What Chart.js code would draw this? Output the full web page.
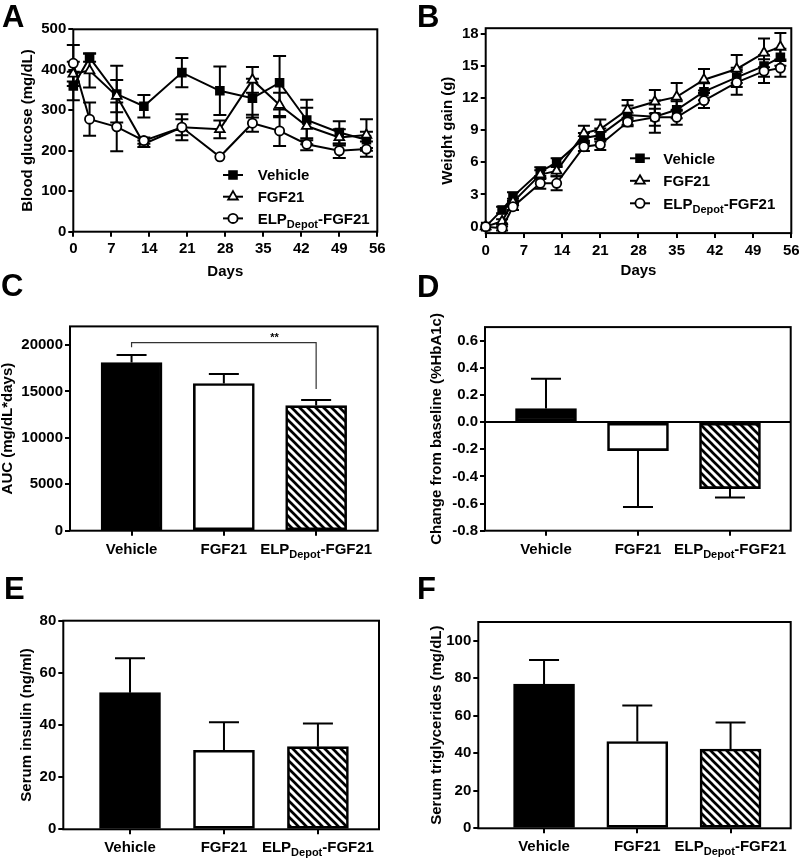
<!DOCTYPE html>
<html>
<head>
<meta charset="utf-8">
<script src="https://cdn.jsdelivr.net/npm/chart.js@4.4.1/dist/chart.umd.min.js"></script>
<style>
  html, body { margin: 0; padding: 0; width: 800px; height: 859px; overflow: hidden; background: #fff; }
  canvas { position: absolute; }
</style>
</head>
<body>
<canvas id="pA"></canvas>
<canvas id="pB"></canvas>
<canvas id="pC"></canvas>
<canvas id="pD"></canvas>
<canvas id="pE"></canvas>
<canvas id="pF"></canvas>
<script>
const FONT = '"Liberation Sans", Arial, Helvetica, sans-serif';

// ---- data ----
const seriesNames = ['Vehicle', 'FGF21', 'ELP_{Depot}-FGF21'];
const groupLabels = ['Vehicle', 'FGF21', 'ELP_{Depot}-FGF21'];

// A: blood glucose (mg/dL)
const glucoseDays = [0, 3, 8, 13, 20, 27, 33, 38, 43, 49, 54];
const glucoseVehicle = [360, 430, 340, 310, 393, 348, 330, 368, 276, 245, 227];
const glucoseVehicleSem = [35, 10, 70, 28, 36, 60, 48, 66, 50, 28, 20];
const glucoseFgf = [390, 398, 335, 217, 258, 253, 375, 313, 261, 233, 239];
const glucoseFgfSem = [30, 42, 40, 8, 32, 22, 32, 30, 45, 20, 39];
const glucoseElp = [416, 278, 259, 225, 258, 185, 268, 249, 216, 200, 204];
const glucoseElpSem = [45, 41, 60, 8, 20, 0, 21, 37, 15, 18, 19];
const glucoseTicks = [0, 100, 200, 300, 400, 500];

// B: weight gain (g)
const weightDays = [0, 3, 5, 10, 13, 18, 21, 26, 31, 35, 40, 46, 51, 54];
const weightVehicle = [0, 1.56, 2.8, 5.13, 5.97, 8.24, 8.55, 10.4, 10.25, 10.9, 12.58, 13.92, 14.98, 15.79];
const weightVehicleSem = [0, 0.3, 0.4, 0.4, 0.4, 0.5, 0.6, 0.9, 1.5, 0.8, 0.8, 0.9, 1.0, 0.8];
const weightFgf = [0, 0.5, 2.3, 4.85, 5.2, 8.7, 9.1, 10.9, 11.65, 12.1, 13.7, 14.7, 16.2, 16.75];
const weightFgfSem = [0, 0.2, 0.3, 0.4, 0.5, 0.7, 0.9, 0.9, 1.1, 1.3, 1.0, 1.3, 1.35, 1.3];
const weightElp = [0, -0.15, 1.86, 4.04, 4.04, 7.46, 7.65, 9.75, 10.2, 10.2, 11.75, 13.45, 14.5, 14.78];
const weightElpSem = [0, 0.2, 0.3, 0.5, 0.65, 0.4, 0.5, 0.4, 0.8, 0.7, 0.7, 1.15, 1.1, 0.8];
const weightTicks = [0, 3, 6, 9, 12, 15, 18];
const dayTicks = [0, 7, 14, 21, 28, 35, 42, 49, 56];

// C: AUC
const aucMean = [18100, 15840, 13470];
const aucSem = [820, 1040, 610];
const aucTicks = [0, 5000, 10000, 15000, 20000];

// D: HbA1c change
const hba1cMean = [0.10, -0.21, -0.49];
const hba1cSem = [0.22, 0.415, 0.065];
const hba1cTicks = [-0.8, -0.6, -0.4, -0.2, 0, 0.2, 0.4, 0.6];

// E: serum insulin
const insulinMean = [52.4, 30.3, 31.7];
const insulinSem = [13.2, 10.8, 8.9];
const insulinTicks = [0, 20, 40, 60, 80];

// F: serum triglycerides
const tgMean = [76.9, 46.3, 42.3];
const tgSem = [12.8, 19.2, 14.1];
const tgTicks = [0, 20, 40, 60, 80, 100];

// ---- helpers ----
const TICKFONT = { family: FONT, size: 15, weight: 'bold', lineHeight: 1.2 };
const TITLEFONT = { family: FONT, size: 15, weight: 'bold', lineHeight: 1 };

function drawRich(ctx, text, x, y, size, align) {
  const parts = [];
  const re = /_\{([^}]*)\}/g;
  let last = 0, m;
  while ((m = re.exec(text))) {
    if (m.index > last) parts.push({ t: text.slice(last, m.index), sub: false });
    parts.push({ t: m[1], sub: true });
    last = re.lastIndex;
  }
  if (last < text.length) parts.push({ t: text.slice(last), sub: false });
  const subSize = Math.round(size * 0.73);
  let w = 0;
  parts.forEach(p => {
    ctx.font = 'bold ' + (p.sub ? subSize : size) + 'px ' + FONT;
    p.w = ctx.measureText(p.t).width;
    w += p.w;
  });
  let cx = align === 'center' ? x - w / 2 : x;
  ctx.textAlign = 'left';
  ctx.textBaseline = 'alphabetic';
  parts.forEach(p => {
    ctx.font = 'bold ' + (p.sub ? subSize : size) + 'px ' + FONT;
    ctx.fillText(p.t, cx, y + (p.sub ? size * 0.27 : 0));
    cx += p.w;
  });
}

function marker(ctx, style, x, y, r, fill) {
  ctx.beginPath();
  if (style === 'circle') {
    ctx.arc(x, y, r, 0, Math.PI * 2);
  } else if (style === 'rect') {
    const s = r * Math.SQRT1_2;
    ctx.rect(x - s, y - s, 2 * s, 2 * s);
  } else {
    for (let k = 0; k < 3; k++) {
      const ang = k * 2 * Math.PI / 3;
      const px = x + Math.sin(ang) * r, py = y - Math.cos(ang) * r;
      if (k) ctx.lineTo(px, py); else ctx.moveTo(px, py);
    }
    ctx.closePath();
  }
  ctx.fillStyle = fill;
  ctx.fill();
  ctx.lineWidth = 1.8;
  ctx.strokeStyle = '#000';
  ctx.stroke();
}

function makeHatch() {
  const s = 8;
  const tile = document.createElement('canvas');
  tile.width = tile.height = s;
  const g = tile.getContext('2d');
  g.fillStyle = '#fff';
  g.fillRect(0, 0, s, s);
  g.strokeStyle = '#000';
  g.lineWidth = 2.7;
  g.beginPath();
  for (let k = -1; k <= 1; k++) {
    g.moveTo(-2, -2 + k * s);
    g.lineTo(s + 2, s + 2 + k * s);
  }
  g.stroke();
  return g.createPattern(tile, 'repeat');
}
const HATCH = makeHatch();

// per-panel decoration settings (kept outside Chart.js option resolver)
const DECOR = {};

const decorPlugin = {
  id: 'decor',
  beforeDatasetsDraw(chart) {
    const ctx = chart.ctx, a = chart.chartArea;
    ctx.save();
    ctx.strokeStyle = '#000';
    ctx.lineWidth = 2;
    ctx.strokeRect(a.left, a.top, a.right - a.left, a.bottom - a.top);
    ctx.restore();
    const d = DECOR[chart.canvas.id];
    if (d && d.errorsBehind) drawErrors(chart, d);
  },
  afterDatasetsDraw(chart) {
    const d = DECOR[chart.canvas.id];
    if (d && !d.errorsBehind) drawErrors(chart, d);
  },
  afterDraw(chart) {
    const d = DECOR[chart.canvas.id];
    const ctx = chart.ctx, a = chart.chartArea;
    const xs = chart.scales.x, ys = chart.scales.y;
    ctx.save();
    ctx.fillStyle = '#000';
    ctx.strokeStyle = '#000';
    if (d.zeroLine) {
      const y0 = ys.getPixelForValue(0);
      ctx.lineWidth = 2;
      ctx.beginPath();
      ctx.moveTo(a.left, y0);
      ctx.lineTo(a.right, y0);
      ctx.stroke();
    }
    ctx.font = 'bold 31px ' + FONT;
    ctx.textAlign = 'left';
    ctx.textBaseline = 'alphabetic';
    ctx.fillText(d.letter, d.letterX, d.letterY);
    if (d.xLabels) {
      d.xLabels.forEach((t, i) => drawRich(ctx, t, xs.getPixelForValue(i + 1), a.bottom + 22.8, 15, 'center'));
    }
    if (d.legend) {
      const L = d.legend;
      chart.data.datasets.forEach((ds, i) => {
        const y = L.y + i * L.dy;
        ctx.lineWidth = 2;
        ctx.strokeStyle = '#000';
        ctx.beginPath();
        ctx.moveTo(L.x, y);
        ctx.lineTo(L.x + L.len, y);
        ctx.stroke();
        marker(ctx, ds.pointStyle, L.x + L.len / 2, y, ds.pointRadius, ds.pointBackgroundColor);
        ctx.fillStyle = '#000';
        drawRich(ctx, ds.label, L.textX, y + 5.4, 15, 'left');
      });
    }
    if (d.bracket) {
      const b = d.bracket;
      const x1 = xs.getPixelForValue(b.from), x2 = xs.getPixelForValue(b.to);
      const yb = ys.getPixelForValue(b.y);
      ctx.lineWidth = 1.2;
      ctx.strokeStyle = '#333';
      ctx.beginPath();
      ctx.moveTo(x1, ys.getPixelForValue(b.leftEnd));
      ctx.lineTo(x1, yb);
      ctx.lineTo(x2, yb);
      ctx.lineTo(x2, ys.getPixelForValue(b.rightEnd));
      ctx.stroke();
      ctx.fillStyle = '#000';
      ctx.font = 'bold 11px ' + FONT;
      ctx.textAlign = 'center';
      ctx.fillText(b.text, xs.getPixelForValue(b.textX), yb - 1.5);
    }
    ctx.restore();
  }
};

function drawErrors(chart, d) {
  const ctx = chart.ctx, ys = chart.scales.y;
  const cap = d.cap;
  ctx.save();
  ctx.strokeStyle = '#000';
  ctx.lineWidth = 2;
  chart.data.datasets.forEach((ds, di) => {
    if (!ds.errors) return;
    const meta = chart.getDatasetMeta(di);
    meta.data.forEach((el, i) => {
      const v = ds.data[i].y, e = ds.errors[i];
      if (!e) return;
      const px = el.x;
      ctx.beginPath();
      if (d.oneSided) {
        const dir = v >= 0 ? 1 : -1;
        const yEnd = ys.getPixelForValue(v + dir * e);
        ctx.moveTo(px, ys.getPixelForValue(v));
        ctx.lineTo(px, yEnd);
        ctx.moveTo(px - cap, yEnd);
        ctx.lineTo(px + cap, yEnd);
      } else {
        const y1 = ys.getPixelForValue(v - e), y2 = ys.getPixelForValue(v + e);
        ctx.moveTo(px, y1);
        ctx.lineTo(px, y2);
        ctx.moveTo(px - cap, y1);
        ctx.lineTo(px + cap, y1);
        ctx.moveTo(px - cap, y2);
        ctx.lineTo(px + cap, y2);
      }
      ctx.stroke();
    });
  });
  ctx.restore();
}

Chart.register(decorPlugin);
Chart.defaults.font.family = FONT;
Chart.defaults.color = '#000';

// box: canvas placement on the page; area: plot frame on the page
function frame(id, box, area, titleX, xAxisH) {
  const c = document.getElementById(id);
  c.width = box.w;
  c.height = box.h;
  c.style.left = box.x + 'px';
  c.style.top = box.y + 'px';
  const padLeft = titleX - box.x - 7.5;
  return {
    canvas: c,
    padding: {
      left: padLeft,
      top: area.t - box.y,
      right: box.w - (area.r - box.x),
      bottom: box.h - (area.b - box.y) - xAxisH
    },
    yWidth: area.l - box.x - padLeft,
    xHeight: xAxisH
  };
}

const tickGrid = { display: true, drawOnChartArea: false, drawTicks: true, tickLength: 5, lineWidth: 2, color: '#000', offset: false };

function yAxis(f, ticks, min, max, title, fmt) {
  return {
    type: 'linear', min: min, max: max,
    afterBuildTicks: s => { s.ticks = ticks.map(v => ({ value: v })); },
    afterFit: s => { s.width = f.yWidth; },
    ticks: { padding: 2, font: TICKFONT, color: '#000', callback: fmt || (v => String(v)) },
    grid: tickGrid,
    border: { display: false },
    title: { display: true, text: title, font: TITLEFONT, color: '#000', padding: 0 }
  };
}

function xDays(f) {
  return {
    type: 'linear', min: 0, max: 56,
    afterBuildTicks: s => { s.ticks = dayTicks.map(v => ({ value: v })); },
    afterFit: s => { s.height = f.xHeight; },
    ticks: { padding: 3.5, font: TICKFONT, color: '#000', autoSkip: false, maxRotation: 0, callback: v => String(v) },
    grid: tickGrid,
    border: { display: false },
    title: { display: true, text: 'Days', font: TITLEFONT, color: '#000', padding: 0 }
  };
}

function xGroups(f, min, max) {
  return {
    type: 'linear', min: min, max: max, offset: false,
    afterBuildTicks: s => { s.ticks = groupLabels.map((_, i) => ({ value: i + 1 })); },
    afterFit: s => { s.height = f.xHeight; },
    ticks: { display: false },
    grid: tickGrid,
    border: { display: false }
  };
}

function pts(xs, ys) { return xs.map((x, i) => ({ x: x, y: ys[i] })); }

function lineSets(days, means, sems) {
  const styles = [
    { pointStyle: 'rect', pointRadius: 5.5, pointBackgroundColor: '#000', order: 3 },
    { pointStyle: 'triangle', pointRadius: 5.6, pointBackgroundColor: '#fff', order: 2 },
    { pointStyle: 'circle', pointRadius: 4.6, pointBackgroundColor: '#fff', order: 1 }
  ];
  return means.map((m, i) => Object.assign({
    label: seriesNames[i],
    data: pts(days, m),
    errors: sems[i],
    borderColor: '#000',
    borderWidth: 2,
    pointBorderColor: '#000',
    pointBorderWidth: 1.8,
    fill: false,
    tension: 0,
    clip: false
  }, styles[i]));
}

function barSet(means, sems) {
  return [{
    label: 'groups',
    data: means.map((v, i) => ({ x: i + 1, y: v })),
    errors: sems,
    backgroundColor: ['#000', '#fff', HATCH],
    borderColor: '#000',
    borderWidth: 2.6,
    borderSkipped: false,
    barThickness: 61
  }];
}

const common = {
  responsive: false,
  animation: false,
  devicePixelRatio: 1,
  events: [],
  plugins: { legend: { display: false }, tooltip: { enabled: false } }
};

function build(f, type, datasets, scales) {
  return new Chart(f.canvas, {
    type: type,
    data: { datasets: datasets },
    options: Object.assign({}, common, { layout: { padding: f.padding }, scales: scales })
  });
}

// ---- panel A ----
const fA = frame('pA', { x: 0, y: 0, w: 400, h: 285 }, { l: 73.3, t: 29.3, r: 377.3, b: 231.7 }, 28.3, 47.5);
DECOR.pA = { letter: 'A', letterX: 2, letterY: 27, errorsBehind: true, cap: 6.5,
  legend: { x: 223, y: 175, dy: 21.7, len: 20, textX: 257.7 } };
build(fA, 'line',
  lineSets(glucoseDays, [glucoseVehicle, glucoseFgf, glucoseElp], [glucoseVehicleSem, glucoseFgfSem, glucoseElpSem]),
  { x: xDays(fA), y: yAxis(fA, glucoseTicks, 0, 500, 'Blood glucose (mg/dL)') });

// ---- panel B ----
const fB = frame('pB', { x: 400, y: 0, w: 420, h: 285 }, { l: 485.7, t: 28.2, r: 791.3, b: 233.1 }, 448.3, 45.1);
DECOR.pB = { letter: 'B', letterX: 17, letterY: 27, errorsBehind: true, cap: 6,
  legend: { x: 230, y: 158.3, dy: 22.5, len: 20, textX: 263.3 } };
build(fB, 'line',
  lineSets(weightDays, [weightVehicle, weightFgf, weightElp], [weightVehicleSem, weightFgfSem, weightElpSem]),
  { x: xDays(fB), y: yAxis(fB, weightTicks, -0.6, 18.5, 'Weight gain (g)') });

// ---- panel C ----
const fC = frame('pC', { x: 0, y: 268, w: 400, h: 300 }, { l: 70, t: 326.4, r: 377.7, b: 530.7 }, 8.3, 25);
DECOR.pC = { letter: 'C', letterX: 1, letterY: 28, errorsBehind: false, oneSided: true, cap: 15,
  xLabels: groupLabels,
  bracket: { from: 1, to: 3, y: 20250, leftEnd: 19750, rightEnd: 15250, text: '**', textX: 2.55 } };
build(fC, 'bar', barSet(aucMean, aucSem),
  { x: xGroups(fC, 0.333, 3.667), y: yAxis(fC, aucTicks, 0, 22000, 'AUC (mg/dL*days)') });

// ---- panel D ----
const fD = frame('pD', { x: 400, y: 268, w: 420, h: 300 }, { l: 485, t: 327.1, r: 790.7, b: 530.7 }, 436.7, 25);
DECOR.pD = { letter: 'D', letterX: 17, letterY: 29, errorsBehind: false, oneSided: true, cap: 15,
  xLabels: groupLabels, zeroLine: true };
build(fD, 'bar', barSet(hba1cMean, hba1cSem),
  { x: xGroups(fD, 0.337, 3.66), y: yAxis(fD, hba1cTicks, -0.8, 0.7, 'Change from baseline (%HbA1c)', v => v.toFixed(1)) });

// ---- panel E ----
const fE = frame('pE', { x: 0, y: 568, w: 400, h: 291 }, { l: 63.3, t: 620.7, r: 379, b: 829.3 }, 27.3, 25);
DECOR.pE = { letter: 'E', letterX: 4, letterY: 30.5, errorsBehind: false, oneSided: true, cap: 15,
  xLabels: groupLabels };
build(fE, 'bar', barSet(insulinMean, insulinSem),
  { x: xGroups(fE, 0.29, 3.65), y: yAxis(fE, insulinTicks, 0, 80, 'Serum insulin (ng/ml)') });

// ---- panel F ----
const fF = frame('pF', { x: 400, y: 568, w: 420, h: 291 }, { l: 478.3, t: 622, r: 790.7, b: 828.3 }, 436.7, 25);
DECOR.pF = { letter: 'F', letterX: 17, letterY: 30.5, errorsBehind: false, oneSided: true, cap: 15,
  xLabels: groupLabels };
build(fF, 'bar', barSet(tgMean, tgSem),
  { x: xGroups(fF, 0.295, 3.645), y: yAxis(fF, tgTicks, 0, 110, 'Serum triglycerides (mg/dL)') });
</script>
</body>
</html>
